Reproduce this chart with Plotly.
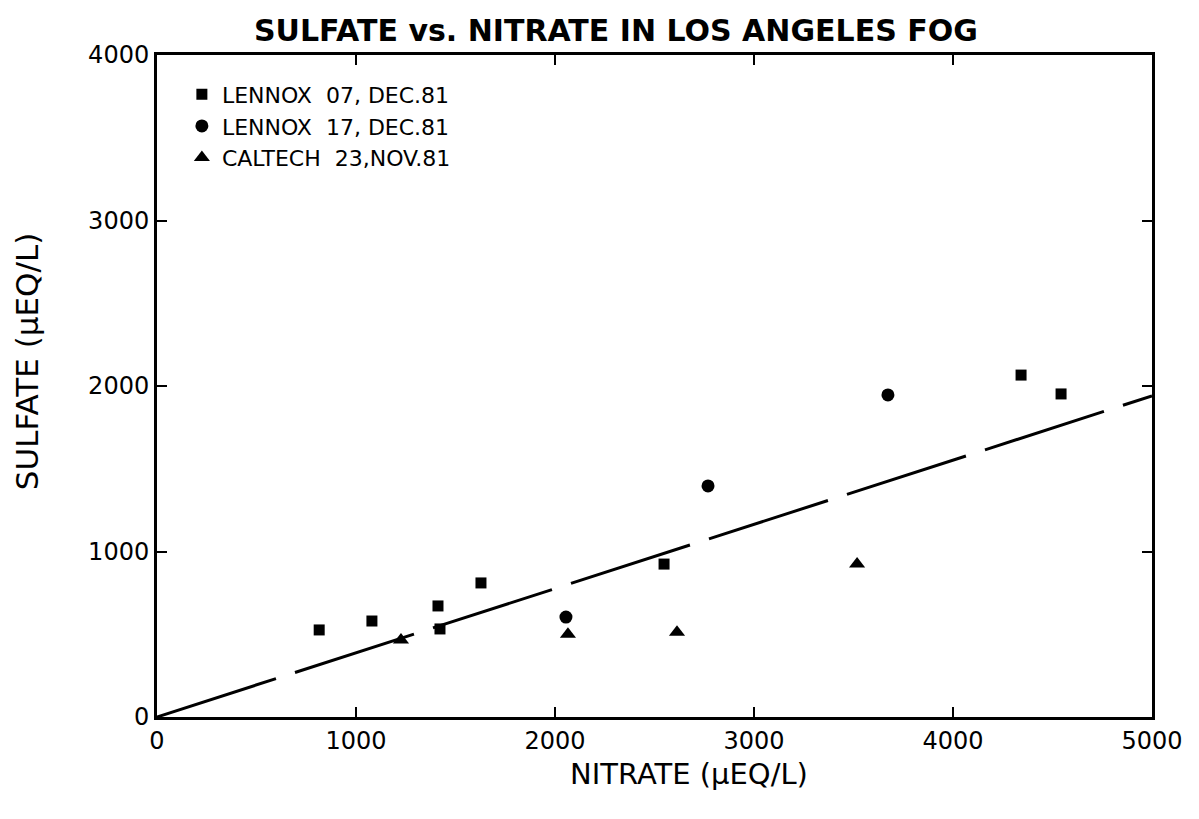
import plotly.graph_objects as go

# Data
lennox07_x = [815, 1080, 1412, 1422, 1628, 2548, 4342, 4543]
lennox07_y = [526, 580, 671, 532, 810, 924, 2066, 1952]

lennox17_x = [2055, 2769, 3673]
lennox17_y = [604, 1396, 1946]

caltech_x = [1226, 2065, 2613, 3518]
caltech_y = [465, 500, 512, 925]

fit_x = [0, 5000]
fit_y = [0, 1940]

x_ticks = [0, 1000, 2000, 3000, 4000, 5000]
y_ticks = [0, 1000, 2000, 3000, 4000]

NB = "\u00a0"
names = [f"LENNOX{NB}{NB}07,{NB}DEC.81",
         f"LENNOX{NB}{NB}17,{NB}DEC.81",
         f"CALTECH{NB}{NB}23,NOV.81"]

font_main = "DejaVu Sans"

fig = go.Figure()
fig.add_trace(go.Scatter(x=fit_x, y=fit_y, mode="lines", showlegend=False,
                         line=dict(color="black", width=3, dash="125px,20px")))
fig.add_trace(go.Scatter(x=lennox07_x, y=lennox07_y, mode="markers", name=names[0],
                         marker=dict(symbol="square", size=11, color="black")))
fig.add_trace(go.Scatter(x=lennox17_x, y=lennox17_y, mode="markers", name=names[1],
                         marker=dict(symbol="circle", size=13, color="black")))
fig.add_trace(go.Scatter(x=caltech_x, y=caltech_y, mode="markers", name=names[2],
                         marker=dict(symbol="triangle-up", size=14, color="black")))

axis_common = dict(showgrid=False, zeroline=False, showline=True, linecolor="black",
                   linewidth=3, mirror="ticks", ticks="inside", ticklen=10, tickwidth=2,
                   tickcolor="black", tickfont=dict(family=font_main, size=24, color="black"))

fig.update_xaxes(range=[0, 5000], tickvals=x_ticks, **axis_common)
fig.update_yaxes(range=[0, 4000], tickvals=y_ticks, **axis_common)

title_font = dict(family=font_main, size=29, color="black")
fig.add_annotation(text="NITRATE (\u03bcEQ/L)", xref="paper", yref="paper", x=0.535, y=0,
                   xanchor="center", yanchor="middle", yshift=-57, showarrow=False, font=title_font)
fig.add_annotation(text="SULFATE (\u03bcEQ/L)", xref="paper", yref="paper", x=0, y=0.536,
                   xanchor="center", yanchor="middle", xshift=-130, textangle=-90,
                   showarrow=False, font=dict(family=font_main, size=31, color="black"))

fig.update_layout(
    width=1199, height=819,
    paper_bgcolor="white", plot_bgcolor="white",
    margin=dict(l=149, r=55, t=47, b=110),
    title=dict(text="<b>SULFATE vs. NITRATE IN LOS ANGELES FOG</b>", x=0.507, xanchor="center",
               y=0.972, yanchor="middle", font=dict(family=font_main, size=30, color="black")),
    legend=dict(x=0.025, y=0.972, xanchor="left", yanchor="top", bgcolor="rgba(0,0,0,0)",
                font=dict(family=font_main, size=22, color="black"), itemwidth=30,
                tracegroupgap=0),
)

fig.write_html("out.html")
